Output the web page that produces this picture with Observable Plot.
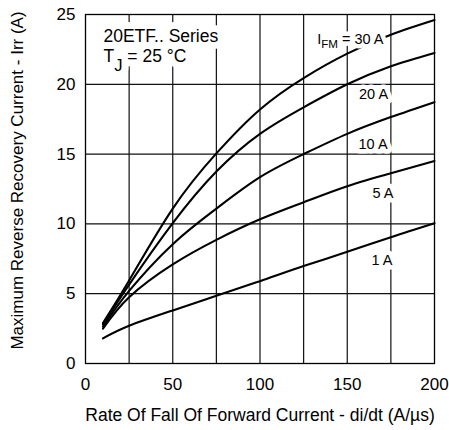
<!DOCTYPE html>
<html><head><meta charset="utf-8">
<script src="https://cdn.jsdelivr.net/npm/d3@7"></script>
<script src="https://cdn.jsdelivr.net/npm/@observablehq/plot@0.6"></script>
<style>body{margin:0;background:#fff} #chart svg{display:block}</style>
</head><body><div id="chart"></div>
<script>
// di/dt (A/µs)
const rate = [10, 25, 50, 75, 100, 125, 150, 175, 200];
// Irr (A) per forward current
const irr30A = [2.9, 5.95, 11.1, 15.05, 18.2, 20.45, 22.2, 23.55, 24.6];
const irr20A = [2.8, 5.65, 10.05, 13.75, 16.45, 18.35, 20.0, 21.3, 22.25];
const irr10A = [2.65, 5.2, 8.55, 11.1, 13.35, 15.0, 16.45, 17.65, 18.72];
const irr5A  = [2.5, 4.75, 7.1, 8.86, 10.33, 11.55, 12.7, 13.63, 14.5];
const irr1A  = [1.8, 2.7, 3.8, 4.85, 5.9, 6.98, 8.0, 9.05, 10.05];
const seriesNames = ["30 A", "20 A", "10 A", "5 A", "1 A"];
const seriesValues = [irr30A, irr20A, irr10A, irr5A, irr1A];

const xTicks = [0, 50, 100, 150, 200];
const yTicks = [0, 5, 10, 15, 20, 25];
const xGrid = [25, 50, 75, 100, 125, 150, 175];
const yGrid = [5, 10, 15, 20];

const xTitle = "Rate Of Fall Of Forward Current - di/dt (A/µs)";
const yTitle = "Maximum Reverse Recovery Current - Irr (A)";
const noteLines = ["20ETF.. Series", "T_{J} = 25 °C"];
const curveLabels = ["I_{FM} = 30 A", "20 A", "10 A", "5 A", "1 A"];

const rows = [];
seriesNames.forEach((s, i) => rate.forEach((r, j) => rows.push({series: s, rate: r, irr: seriesValues[i][j]})));

// annotation anchors (data coordinates)
const labelRows = [
  {text: curveLabels[0], x: 170.8, y: 23.2},
  {text: curveLabels[1], x: 173.4, y: 19.27},
  {text: curveLabels[2], x: 173.1, y: 15.72},
  {text: curveLabels[3], x: 176.5, y: 12.21},
  {text: curveLabels[4], x: 175.9, y: 7.41}
];
const noteRows = [
  {text: noteLines[0], x: 10.3, y: 23.46},
  {text: noteLines[1], x: 10.3, y: 22.0}
];

const noteOpts = {x: "x", y: "y", text: "text", textAnchor: "start", lineAnchor: "middle", fontSize: 17.5};
const labelOpts = {x: "x", y: "y", text: "text", textAnchor: "end", lineAnchor: "middle", fontSize: 14.5};

const chart = Plot.plot({
  width: 449, height: 430,
  marginLeft: 85, marginRight: 15, marginTop: 14, marginBottom: 67,
  style: {fontFamily: "'Liberation Sans', Arial, sans-serif", fontSize: "17px", color: "#000", background: "#fff"},
  x: {domain: [0, 200]},
  y: {domain: [0, 25]},
  marks: [
    Plot.ruleX(xGrid, {stroke: "#111", strokeWidth: 1.2}),
    Plot.ruleY(yGrid, {stroke: "#111", strokeWidth: 1.2}),
    Plot.line(rows, {x: "rate", y: "irr", z: "series", stroke: "#000", strokeWidth: 2.1, curve: "natural"}),
    // white halos behind annotations
    Plot.text(noteRows, {...noteOpts, fill: "#fff", stroke: "#fff", strokeWidth: 14}),
    Plot.text(labelRows, {...labelOpts, fill: "#fff", stroke: "#fff", strokeWidth: 9}),
    Plot.text(noteRows, {...noteOpts, fill: "#000"}),
    Plot.text(labelRows, {...labelOpts, fill: "#000"}),
    Plot.frame({stroke: "#000", strokeWidth: 1.3}),
    Plot.axisX(xTicks, {tickSize: 0, tickPadding: 14, label: null, fontSize: 17}),
    Plot.axisY(yTicks, {tickSize: 0, tickPadding: 10, label: null, fontSize: 17}),
    Plot.text([xTitle], {frameAnchor: "bottom", textAnchor: "middle", lineAnchor: "middle", dy: 51.5, fontSize: 17.5, fill: "#000"}),
    Plot.text([yTitle], {frameAnchor: "left", textAnchor: "middle", lineAnchor: "middle", rotate: -90, dx: -67.5, dy: -8.5, fontSize: 17, fill: "#000"})
  ]
});

// render "_{...}" as subscripts
d3.select(chart).selectAll("text").each(function() {
  const el = this;
  const t = el.textContent;
  if (!t.includes("_{")) return;
  const m = t.match(/^(.*?)_\{(.*?)\}(.*)$/);
  if (!m) return;
  while (el.firstChild) el.removeChild(el.firstChild);
  const ns = "http://www.w3.org/2000/svg";
  const a = document.createElementNS(ns, "tspan"); a.textContent = m[1]; el.appendChild(a);
  const b = document.createElementNS(ns, "tspan"); b.textContent = m[2];
  const big = t.startsWith("T");
  b.setAttribute("font-size", big ? "0.95em" : "0.8em");
  b.setAttribute("dy", big ? "0.55em" : "0.3em");
  el.appendChild(b);
  const c = document.createElementNS(ns, "tspan"); c.textContent = m[3];
  c.setAttribute("dy", big ? "-0.52em" : "-0.24em");
  el.appendChild(c);
});

document.getElementById("chart").appendChild(chart);
</script>
</body></html>
